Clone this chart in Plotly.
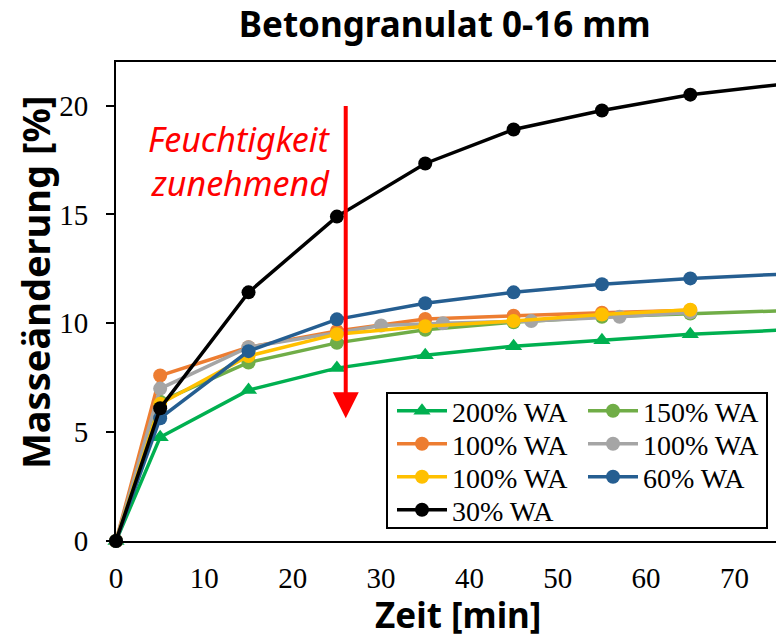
import plotly.graph_objects as go

t_std = [0, 5, 15, 25, 35, 45, 55, 65, 75]
t_short = [0, 5, 15, 25, 35, 45, 55, 65]
t_gray = [0, 5, 15, 30, 37, 47, 57, 65]

wa200 = [0, 4.77, 6.93, 7.94, 8.53, 8.95, 9.22, 9.50, 9.68]
wa150 = [0, 6.4, 8.2, 9.1, 9.7, 10.05, 10.3, 10.45, 10.57]
wa100_orange = [0, 7.6, 8.9, 9.65, 10.2, 10.35, 10.48, 10.6]
wa100_gray = [0, 7.0, 8.9, 9.9, 10.0, 10.1, 10.3, 10.5]
wa100_yellow = [0, 6.3, 8.5, 9.5, 9.86, 10.1, 10.4, 10.62]
wa60 = [0, 5.64, 8.72, 10.18, 10.92, 11.42, 11.79, 12.06, 12.25]
wa30 = [0, 6.1, 11.42, 14.9, 17.34, 18.9, 19.77, 20.5, 20.96]

x_ticks = [0, 10, 20, 30, 40, 50, 60, 70]
y_ticks = [0, 5, 10, 15, 20]

series_names = ["200% WA", "150% WA", "100% WA", "100% WA", "100% WA", "60% WA", "30% WA"]
series_x = [t_std, t_std, t_short, t_gray, t_short, t_std, t_std]
series_y = [wa200, wa150, wa100_orange, wa100_gray, wa100_yellow, wa60, wa30]
series_colors = ["#00B050", "#70AD47", "#ED7D31", "#A5A5A5", "#FFC000", "#255E91", "#000000"]
series_symbols = ["triangle-up"] + ["circle"] * 6

W, H = 776, 640
L, R, T, B = 116, 0, 62, 99
PW, PH = W - L - R, H - T - B

def px_x(p):
    return (p - L) / PW

def px_y(p):
    return (H - B - p) / PH

# legend slot positions (pixel left, pixel row centre) in a 2-column layout
leg_left = [392, 583]
leg_rows = [411, 444, 477, 510]

fig = go.Figure()
legend_layouts = {}
for i in range(len(series_names)):
    key = "legend" if i == 0 else f"legend{i + 1}"
    col, row = i % 2, i // 2
    legend_layouts[key] = dict(
        x=px_x(leg_left[col]), y=px_y(leg_rows[row]), xanchor="left", yanchor="middle",
        bgcolor="rgba(0,0,0,0)", borderwidth=0, itemwidth=50,
        font=dict(family="Liberation Serif", size=28, color="black"),
    )
    sym = series_symbols[i]
    fig.add_trace(go.Scatter(
        x=series_x[i], y=series_y[i], name=series_names[i], mode="lines+markers",
        legend=key,
        line=dict(color=series_colors[i], width=3.5),
        marker=dict(color=series_colors[i], size=14 if sym == "circle" else 15, symbol=sym),
        cliponaxis=False,
    ))

# legend frame
fig.add_shape(type="rect", xref="paper", yref="paper",
              x0=px_x(387), x1=px_x(767), y0=px_y(528), y1=px_y(393),
              line=dict(color="black", width=2), fillcolor="white", layer="below")

# red arrow
fig.add_annotation(
    x=26.0, y=5.64, ax=26.0, ay=20.05, xref="x", yref="y", axref="x", ayref="y",
    text="", showarrow=True, arrowhead=2, arrowsize=1.3, arrowwidth=4,
    arrowcolor="#FF0000",
)
fig.add_annotation(x=px_x(333), y=px_y(161), xref="paper", yref="paper",
                   xanchor="right", yanchor="middle", showarrow=False, align="right",
                   text="<i>Feuchtigkeit<br>zunehmend</i>",
                   font=dict(family="Noto Sans", size=34, color="#FF0000"))

# axis titles
fig.add_annotation(x=px_x(458), y=px_y(614), xref="paper", yref="paper",
                   xanchor="center", yanchor="middle", showarrow=False,
                   text="<b>Zeit [min]</b>",
                   font=dict(family="Noto Sans", size=35, color="black"))
fig.add_annotation(x=px_x(35), y=px_y(283), xref="paper", yref="paper",
                   xanchor="center", yanchor="middle", showarrow=False,
                   textangle=-90, text="<b>Masseänderung [%]</b>",
                   font=dict(family="Noto Sans", size=38, color="black"))

fig.update_layout(
    width=W, height=H,
    margin=dict(l=L, r=R, t=T, b=B, autoexpand=False),
    paper_bgcolor="white", plot_bgcolor="white",
    title=dict(text="<b>Betongranulat 0-16 mm</b>", x=0.573, xanchor="center",
               y=1 - 25 / H, yanchor="middle",
               font=dict(family="Noto Sans", size=35, color="black")),
    showlegend=True,
    font=dict(family="Liberation Serif", color="black"),
    **legend_layouts,
)
fig.update_xaxes(
    range=[0, 74.7], tickvals=x_ticks, showgrid=False, zeroline=False,
    showline=True, linecolor="black", linewidth=2, mirror=True,
    ticks="", automargin=False, ticklabelstandoff=10,
    tickfont=dict(family="Liberation Serif", size=29, color="black"),
)
fig.update_yaxes(
    range=[0, 22], tickvals=y_ticks, showgrid=False, zeroline=False,
    showline=True, linecolor="black", linewidth=2, mirror=True,
    ticks="outside", ticklen=8, tickcolor="black", tickwidth=1.5,
    automargin=False, ticklabelstandoff=12,
    tickfont=dict(family="Liberation Serif", size=29, color="black"),
)

fig.write_html("out.html", config={"displayModeBar": False},
               post_script="document.body.style.margin='0';document.body.style.overflow='hidden';")
